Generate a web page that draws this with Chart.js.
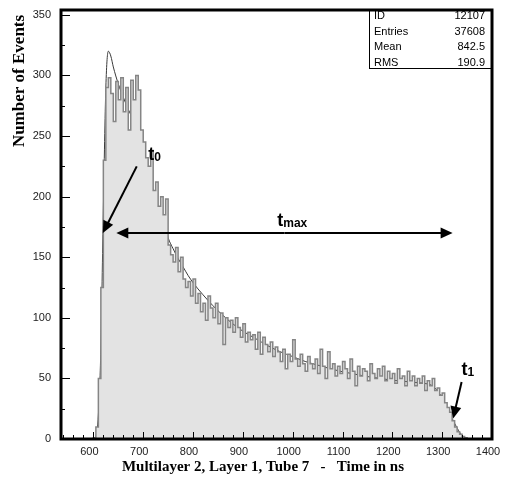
<!DOCTYPE html>
<html>
<head>
<meta charset="utf-8">
<script src="https://cdn.jsdelivr.net/npm/chart.js@4.4.1/dist/chart.umd.min.js"></script>
<style>
  html, body { margin: 0; padding: 0; background: #fff; }
  canvas { display: block; }
</style>
</head>
<body>
<canvas id="c" width="506" height="482"></canvas>
<script>
// Drift time spectrum, 5 ns bins starting at binStart
var binStart = 590;
var binWidth = 5;
var counts = [
  0, 0, 1, 10, 50, 125, 230, 290, 298, 285,
  262, 295, 280, 298, 270, 290, 255, 296, 280, 300,
  288, 255, 245, 232, 225, 238, 205, 212, 192, 200,
  185, 198, 160, 152, 146, 158, 138, 150, 132, 125,
  130, 118, 132, 112, 120, 105, 112, 98, 118, 108,
  100, 112, 95, 104, 78, 100, 92, 98, 88, 100,
  92, 84, 95, 80, 88, 82, 86, 74, 88, 70,
  84, 78, 72, 80, 68, 76, 72, 64, 74, 58,
  70, 64, 82, 66, 60, 70, 62, 56, 68, 62,
  58, 66, 54, 74, 60, 50, 72, 58, 62, 52,
  60, 54, 64, 58, 50, 66, 56, 44, 60, 52,
  58, 56, 48, 62, 54, 50, 58, 52, 60, 48,
  56, 50, 54, 46, 58, 50, 52, 44, 56, 48,
  52, 44, 50, 46, 52, 40, 48, 44, 50, 40,
  42, 36, 38, 30, 26, 22, 15, 10, 6, 4,
  2, 1, 0, 0
];

// fitted curve
var fitTimes  = [600, 605, 610, 615, 620, 625, 630, 635, 640, 650, 660, 670, 680, 690, 700,
                 710, 720, 730, 740, 750, 760, 770, 780, 790, 800, 820, 840, 860, 880, 900,
                 925, 950, 975, 1000, 1025, 1050, 1075, 1100, 1125, 1150, 1175, 1200, 1225,
                 1250, 1270, 1280, 1290, 1300, 1310, 1320, 1330, 1340, 1350, 1360];
var fitValues = [0, 2, 20, 75, 190, 290, 320, 316, 307, 293, 282, 272, 263, 250, 237,
                 222, 205, 192, 181, 166, 157, 149, 142, 135, 129, 119, 110, 102, 95, 89,
                 83, 77, 72, 68, 64, 61, 58, 55.5, 53.5, 51.5, 50, 48.5, 47.5,
                 46.5, 45.5, 44, 40, 34, 25, 17, 9, 3, 0.5, 0];

var statLabels = ['ID', 'Entries', 'Mean', 'RMS'];
var statValues = ['12107', '37608', '842.5', '190.9'];

var xTitle = 'Multilayer 2, Layer 1, Tube 7   -   Time in ns';
var yTitle = 'Number of Events';

var histPoints = counts.map(function(v, i) { return {x: binStart + i * binWidth, y: v}; });
var fitPoints = fitTimes.map(function(t, i) { return {x: t, y: fitValues[i]}; });

function arrow(ctx, x1, y1, x2, y2) {
  var ang = Math.atan2(y2 - y1, x2 - x1);
  var len = 12, half = 5.5;
  ctx.beginPath();
  ctx.moveTo(x1, y1);
  ctx.lineTo(x2 - Math.cos(ang) * len * 0.8, y2 - Math.sin(ang) * len * 0.8);
  ctx.stroke();
  ctx.beginPath();
  ctx.moveTo(x2, y2);
  ctx.lineTo(x2 - Math.cos(ang) * len - Math.sin(ang) * half, y2 - Math.sin(ang) * len + Math.cos(ang) * half);
  ctx.lineTo(x2 - Math.cos(ang) * len + Math.sin(ang) * half, y2 - Math.sin(ang) * len - Math.cos(ang) * half);
  ctx.closePath();
  ctx.fill();
}

function subLabel(ctx, x, y, main, sub) {
  ctx.textAlign = 'left';
  ctx.textBaseline = 'alphabetic';
  ctx.font = 'bold 18px "Liberation Sans", Arial, sans-serif';
  ctx.fillText(main, x, y);
  var w = ctx.measureText(main).width;
  ctx.font = 'bold 12px "Liberation Sans", Arial, sans-serif';
  ctx.fillText(sub, x + w, y + 1);
}

// no label overflow padding, the frame is placed by layout.padding alone
function noPad(s) {
  s.paddingTop = 0; s.paddingBottom = 0;
  s.paddingLeft = 0; s.paddingRight = 0;
}

var decorations = {
  id: 'decorations',
  afterDatasetsDraw: function(chart) {
    var ctx = chart.ctx, a = chart.chartArea;
    var xs = chart.scales.x, ys = chart.scales.y;
    ctx.save();

    // inner tick marks
    ctx.strokeStyle = '#000';
    ctx.lineWidth = 1;
    ctx.beginPath();
    for (var t = 540; t <= 1400; t += 20) {
      var px = Math.round(xs.getPixelForValue(t)) + 0.5;
      var l = (t % 100 === 0) ? 7 : 4;
      ctx.moveTo(px, a.bottom);
      ctx.lineTo(px, a.bottom - l);
    }
    for (var v = 0; v <= 350; v += 25) {
      var py = Math.round(ys.getPixelForValue(v)) + 0.5;
      var ly = (v % 50 === 0) ? 9 : 4;
      ctx.moveTo(a.left, py);
      ctx.lineTo(a.left + ly, py);
    }
    ctx.stroke();

    // stats box
    var bx = 369;
    ctx.fillStyle = '#fff';
    ctx.fillRect(bx, a.top, a.right - bx, 58);
    ctx.strokeRect(bx + 0.5, a.top + 0.5, a.right - bx, 58);
    ctx.fillStyle = '#000';
    ctx.font = '11px "Liberation Sans", Arial, sans-serif';
    ctx.textBaseline = 'middle';
    for (var i = 0; i < statLabels.length; i++) {
      var ry = a.top + 6 + i * 15.5;
      ctx.textAlign = 'left';
      ctx.fillText(statLabels[i], bx + 5, ry);
      ctx.textAlign = 'right';
      ctx.fillText(statValues[i], a.right - 7, ry);
    }

    // annotations
    ctx.fillStyle = '#000';
    ctx.strokeStyle = '#000';
    ctx.lineWidth = 2;
    arrow(ctx, xs.getPixelForValue(687), ys.getPixelForValue(225),
               xs.getPixelForValue(619), ys.getPixelForValue(170));
    var yArr = ys.getPixelForValue(170);
    var xl = xs.getPixelForValue(646), xr = xs.getPixelForValue(1321);
    arrow(ctx, (xl + xr) / 2, yArr, xl, yArr);
    arrow(ctx, (xl + xr) / 2, yArr, xr, yArr);
    arrow(ctx, xs.getPixelForValue(1339), ys.getPixelForValue(47),
               xs.getPixelForValue(1322), ys.getPixelForValue(17));
    subLabel(ctx, xs.getPixelForValue(710), ys.getPixelForValue(230), 't', '0');
    subLabel(ctx, xs.getPixelForValue(969), ys.getPixelForValue(176), 't', 'max');
    subLabel(ctx, xs.getPixelForValue(1339), ys.getPixelForValue(53), 't', '1');

    // frame
    ctx.lineWidth = 3;
    ctx.strokeRect(a.left, a.top, a.right - a.left, a.bottom - a.top);

    // axis titles
    ctx.font = 'bold 15px "Liberation Serif", "Times New Roman", serif';
    ctx.textAlign = 'center';
    ctx.textBaseline = 'middle';
    ctx.fillText(xTitle, 263, 467);
    ctx.save();
    ctx.translate(20, 81);
    ctx.rotate(-Math.PI / 2);
    ctx.font = 'bold 17px "Liberation Serif", "Times New Roman", serif';
    ctx.fillText(yTitle, 0, 0);
    ctx.restore();

    ctx.restore();
  }
};

new Chart(document.getElementById('c'), {
  type: 'line',
  data: {
    datasets: [{
      data: histPoints,
      stepped: true,
      fill: 'origin',
      backgroundColor: '#e3e3e3',
      borderColor: '#858585',
      borderWidth: 1.5,
      pointRadius: 0,
      pointHoverRadius: 0
    }, {
      data: fitPoints,
      fill: false,
      borderColor: '#3a3a3a',
      borderWidth: 1,
      cubicInterpolationMode: 'monotone',
      pointRadius: 0,
      pointHoverRadius: 0
    }]
  },
  options: {
    responsive: false,
    devicePixelRatio: 1,
    animation: false,
    layout: { autoPadding: false, padding: { top: 10, right: 14, left: 0, bottom: 0 } },
    plugins: { legend: { display: false }, tooltip: { enabled: false } },
    scales: {
      x: {
        type: 'linear',
        min: 535,
        max: 1400,
        grid: { display: false, drawTicks: false },
        border: { display: false },
        ticks: {
          stepSize: 100,
          includeBounds: false,
          padding: 6,
          labelOffset: -4,
          maxRotation: 0,
          color: '#222',
          font: { family: '"Liberation Sans", Arial, sans-serif', size: 11 },
          callback: function(v) { return String(v); }
        },
        afterFit: function(s) { s.height = 43; noPad(s); }
      },
      y: {
        type: 'linear',
        min: 0,
        max: 354,
        grid: { display: false, drawTicks: false },
        border: { display: false },
        ticks: {
          stepSize: 50,
          includeBounds: false,
          padding: 10,
          color: '#222',
          font: { family: '"Liberation Sans", Arial, sans-serif', size: 11 }
        },
        afterFit: function(s) { s.width = 61; noPad(s); }
      }
    }
  },
  plugins: [decorations]
});
</script>
</body>
</html>
